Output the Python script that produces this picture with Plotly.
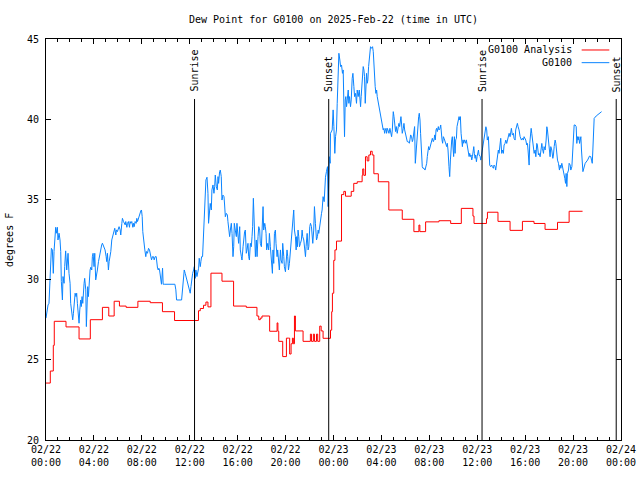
import plotly.graph_objects as go
import pandas as pd

BASE = pd.Timestamp("2025-02-22 00:00")

# G0100 Analysis (hourly step series): (hours since 02/22 00:00, degrees F)
analysis_hours = [0.0, 0.36, 0.61, 0.69, 1.67, 2.76, 3.70, 4.71, 5.24, 5.69, 6.13, 6.69, 7.67, 8.70, 9.72, 10.73,
                  12.73, 12.88, 13.15, 13.35, 13.52, 13.77, 14.69, 15.66, 16.72, 17.61, 17.76, 17.89, 18.03, 18.67,
                  19.29, 19.36, 19.43, 19.76, 20.07, 20.23, 20.34, 20.46, 20.57, 20.65, 20.74, 20.82, 21.46, 22.07,
                  22.16, 22.32, 22.41, 22.58, 22.68, 22.85, 22.97, 23.13, 23.75, 23.85, 23.91, 24.02, 24.12, 24.25,
                  24.67, 24.86, 25.0, 25.48, 25.69, 25.98, 26.39, 26.44, 26.53, 26.67, 26.81, 26.95, 27.09, 27.23,
                  27.37, 27.74, 28.62, 29.74, 30.71, 31.13, 31.21, 31.69, 32.8, 33.78, 34.67, 35.64, 35.73, 36.77,
                  36.85, 37.73, 38.74, 39.77, 40.74, 41.66, 42.7, 43.67, 44.79]
analysis_vals = [23.55, 24.3, 25.9, 27.4, 27.05, 26.3, 27.5, 28.27, 27.73, 28.65, 28.35, 28.27, 28.65, 28.56, 28.0, 27.45,
                 28.06, 28.2, 28.4, 28.6, 28.3, 30.4, 29.9, 28.35, 28.27, 27.73, 27.5, 27.6, 27.73, 26.78,
                 27.3, 26.78, 26.15, 25.2, 26.35, 26.35, 25.36, 26.0, 26.35, 26.0, 27.73, 26.8, 26.15, 26.6,
                 26.15, 26.6, 26.15, 26.6, 26.15, 27.1, 26.8, 26.34, 26.85, 28.0, 29.15, 31.2, 31.85, 32.4,
                 35.3, 35.5, 35.2, 35.5, 36.0, 36.1, 36.5, 36.9, 36.5, 37.66, 37.4, 37.77, 38.0, 37.77,
                 36.6, 36.1, 34.34, 33.76, 32.99, 33.4, 32.99, 33.6, 33.67, 33.5, 34.44, 33.96, 33.5, 33.8,
                 34.2, 33.63, 33.07, 33.63, 33.5, 33.13, 33.57, 34.26, 34.26]

# G0100 observations: (hours since 02/22 00:00, degrees F)
g0100_obs = [
    (0.0, 27.6), (0.06, 27.9), (0.17, 28.42), (0.25, 28.52), (0.39, 31.43), (0.45, 31.95), (0.53, 31.85), (0.61, 30.39),
    (0.67, 31.75), (0.81, 33.26), (0.86, 32.89), (0.95, 33.26), (1.0, 32.47), (1.09, 32.89), (1.17, 32.47), (1.23, 31.75),
    (1.28, 29.88), (1.37, 28.73), (1.42, 30.19), (1.51, 29.77), (1.56, 30.81), (1.64, 31.79), (1.73, 30.6), (1.78, 31.23),
    (1.84, 31.64), (1.92, 30.39), (2.01, 29.77), (2.06, 28.52), (2.15, 27.69), (2.23, 27.49), (2.29, 27.9), (2.34, 28.52),
    (2.43, 29.15), (2.51, 28.94), (2.56, 29.15), (2.62, 28.52), (2.7, 27.69), (2.76, 27.28), (2.82, 28.11), (2.9, 28.73),
    (2.95, 28.32), (3.01, 28.94), (3.07, 28.52), (3.12, 29.36), (3.18, 29.77), (3.23, 30.08), (3.32, 29.36), (3.37, 27.07),
    (3.43, 28.32), (3.48, 29.56), (3.54, 28.94), (3.6, 29.77), (3.68, 30.6), (3.74, 30.77), (3.82, 30.6), (3.87, 31.43),
    (3.93, 31.64), (4.01, 30.81), (4.07, 31.64), (4.15, 29.98), (4.21, 30.39), (4.29, 30.6), (4.38, 31.12), (4.43, 31.33),
    (4.52, 31.64), (4.57, 31.95), (4.65, 32.16), (4.71, 32.27), (4.79, 32.06), (4.85, 31.95), (4.93, 31.85), (5.02, 31.43),
    (5.07, 31.12), (5.13, 31.64), (5.21, 30.6), (5.27, 31.12), (5.35, 31.43), (5.41, 31.75), (5.49, 32.47), (5.55, 32.68),
    (5.6, 32.89), (5.69, 32.99), (5.74, 33.2), (5.83, 32.78), (5.88, 33.1), (5.96, 32.99), (6.02, 33.2), (6.1, 33.3),
    (6.19, 33.1), (6.24, 32.78), (6.33, 33.51), (6.38, 33.82), (6.47, 33.62), (6.52, 33.51), (6.61, 33.41), (6.66, 33.62),
    (6.75, 33.26), (6.8, 33.51), (6.88, 33.62), (6.97, 33.26), (7.02, 33.62), (7.08, 33.51), (7.16, 33.62), (7.25, 33.26),
    (7.3, 33.51), (7.36, 33.3), (7.44, 33.62), (7.53, 33.51), (7.58, 33.82), (7.64, 33.62), (7.72, 33.82), (7.78, 34.03),
    (7.83, 34.14), (7.92, 34.3), (7.97, 34.34), (8.03, 33.93), (8.08, 32.99), (8.14, 32.37), (8.19, 31.95), (8.25, 31.85),
    (8.33, 31.43), (8.39, 31.75), (8.47, 31.64), (8.56, 31.95), (8.64, 31.85), (8.7, 31.64), (8.75, 31.43), (8.81, 31.23),
    (8.89, 31.43), (8.97, 31.43), (9.03, 31.23), (9.11, 31.43), (9.2, 31.43), (9.25, 31.02), (9.31, 30.71), (9.37, 30.6),
    (9.42, 30.71), (9.48, 30.6), (9.53, 30.29), (9.59, 30.19), (9.64, 29.71), (9.73, 30.71), (9.78, 29.71), (9.87, 29.71),
    (10.76, 29.71), (10.84, 29.36), (10.9, 28.73), (11.32, 28.73), (11.4, 29.36), (11.48, 30.19), (11.54, 30.6), (11.62, 30.39),
    (11.68, 30.19), (11.76, 29.98), (11.82, 29.77), (11.9, 29.56), (11.96, 29.46), (12.04, 29.15), (12.1, 29.56), (12.15, 29.98),
    (12.24, 30.39), (12.32, 30.6), (12.38, 30.81), (12.46, 30.08), (12.51, 30.6), (12.6, 30.19), (12.65, 30.39), (12.74, 30.71),
    (12.79, 31.33), (12.88, 30.81), (12.93, 31.12), (12.99, 31.43), (13.07, 31.43), (13.16, 33.1),
    (13.24, 34.55), (13.35, 36.21), (13.44, 36.38), (13.52, 35.38), (13.57, 33.51), (13.63, 34.34), (13.71, 34.75), (13.8, 34.34),
    (13.85, 35.59), (13.94, 35.9), (14.02, 35.38), (14.08, 35.79), (14.13, 36.52), (14.22, 35.79), (14.3, 35.59), (14.36, 36.42),
    (14.41, 36.0), (14.49, 36.73), (14.55, 36.83), (14.63, 36.42), (14.69, 34.96), (14.77, 35.27), (14.86, 35.17), (14.91, 34.65),
    (14.97, 33.92), (15.05, 34.13), (15.14, 34.03), (15.19, 33.61), (15.25, 33.3), (15.33, 32.68), (15.39, 33.09), (15.47, 33.51),
    (15.53, 32.88), (15.61, 31.43), (15.67, 32.05), (15.72, 33.51), (15.8, 33.09), (15.89, 32.68), (15.94, 33.51), (16.03, 32.88),
    (16.08, 32.26), (16.17, 33.3), (16.22, 31.85), (16.31, 31.43), (16.36, 31.22), (16.45, 32.05), (16.53, 32.88), (16.58, 32.99),
    (16.64, 33.09), (16.72, 31.64), (16.78, 31.85), (16.86, 32.26), (16.92, 31.43), (16.98, 31.22), (17.06, 32.26), (17.14, 32.05),
    (17.2, 32.68), (17.25, 33.3), (17.31, 35.07), (17.37, 33.3), (17.42, 31.85), (17.48, 31.43), (17.56, 32.47), (17.62, 31.43),
    (17.7, 32.68), (17.76, 33.3), (17.84, 33.09), (17.89, 32.26), (17.98, 32.05), (18.03, 32.68), (18.12, 34.55), (18.17, 33.09),
    (18.26, 33.51), (18.31, 33.3), (18.37, 32.88), (18.42, 31.85), (18.51, 32.26), (18.59, 31.85), (18.65, 32.88), (18.73, 32.05),
    (18.79, 31.43), (18.84, 30.81), (18.9, 30.39), (18.95, 31.85), (19.01, 31.01), (19.07, 32.88), (19.15, 33.09), (19.2, 32.26),
    (19.29, 31.43), (19.34, 31.85), (19.43, 31.01), (19.48, 30.6), (19.57, 31.85), (19.62, 31.22), (19.71, 31.01), (19.76, 32.26),
    (19.85, 31.43), (19.9, 30.81), (19.99, 30.49), (20.04, 31.01), (20.12, 31.85), (20.18, 31.43), (20.24, 30.6), (20.32, 31.01),
    (20.4, 31.85), (20.49, 32.88), (20.54, 33.3), (20.6, 33.72), (20.68, 34.34), (20.74, 33.09), (20.82, 32.68), (20.88, 31.85),
    (20.93, 32.68), (20.99, 32.05), (21.04, 33.09), (21.1, 32.68), (21.16, 32.05), (21.24, 32.26), (21.32, 32.47), (21.38, 33.09),
    (21.43, 32.68), (21.52, 32.47), (21.6, 31.85), (21.66, 31.43), (21.71, 32.05), (21.8, 32.88), (21.88, 31.85), (21.94, 32.05),
    (22.02, 33.3), (22.08, 33.51), (22.16, 33.3), (22.21, 32.88), (22.27, 32.26), (22.35, 33.09), (22.41, 34.55), (22.49, 33.51),
    (22.58, 32.47), (22.66, 32.68), (22.72, 33.09), (22.77, 32.88), (22.86, 33.51), (22.94, 33.92), (23.0, 34.13), (23.05, 34.34),
    (23.13, 35.17), (23.22, 34.86), (23.27, 36.0), (23.33, 36.38), (23.41, 36.73), (23.5, 37.04), (23.55, 34.55), (23.66, 37.66),
    (23.72, 37.25), (23.75, 39.12), (23.89, 39.33), (23.97, 40.58), (24.03, 39.54), (24.11, 37.87), (24.17, 38.91), (24.25, 39.33),
    (24.31, 40.99), (24.36, 42.86), (24.45, 44.11), (24.53, 43.69), (24.59, 43.28), (24.67, 43.38), (24.75, 42.86), (24.81, 43.07),
    (24.86, 40.78), (24.92, 38.91), (24.98, 41.2), (25.03, 41.41), (25.09, 40.78), (25.14, 41.2), (25.23, 41.82), (25.28, 40.99),
    (25.34, 41.41), (25.42, 40.78), (25.48, 41.2), (25.56, 42.55), (25.62, 42.86), (25.7, 42.03), (25.76, 41.41), (25.84, 41.61),
    (25.92, 40.99), (25.98, 41.82), (26.06, 41.41), (26.15, 41.82), (26.2, 40.99), (26.26, 40.78), (26.31, 41.41), (26.37, 42.24),
    (26.43, 42.86), (26.48, 43.28), (26.54, 43.07), (26.59, 42.65), (26.65, 40.99), (26.7, 42.03), (26.76, 42.86), (26.82, 42.24),
    (26.87, 42.45), (26.93, 43.28), (26.98, 43.69), (27.04, 44.11), (27.09, 44.52), (27.18, 44.42), (27.26, 44.52), (27.32, 44.21),
    (27.37, 43.28), (27.43, 42.45), (27.48, 42.03), (27.54, 41.61), (27.6, 41.82), (27.65, 41.41), (27.74, 40.99), (27.82, 40.78),
    (27.87, 40.47), (27.93, 40.16), (27.99, 39.95), (28.07, 39.74), (28.15, 39.33), (28.21, 39.43), (28.27, 39.12), (28.32, 39.33),
    (28.38, 39.43), (28.43, 39.12), (28.49, 39.43), (28.54, 39.33), (28.63, 39.12), (28.71, 39.43), (28.77, 39.23), (28.85, 38.91),
    (28.91, 39.33), (28.96, 39.95), (28.99, 40.47), (29.05, 40.16), (29.1, 39.74), (29.18, 39.23), (29.24, 39.54), (29.32, 39.12),
    (29.41, 39.54), (29.46, 39.74), (29.52, 39.54), (29.57, 39.95), (29.63, 40.16), (29.69, 39.64), (29.74, 39.12), (29.83, 39.43),
    (29.88, 39.74), (29.94, 39.33), (30.02, 39.12), (30.1, 38.91), (30.16, 38.6), (30.24, 38.6), (30.33, 38.5), (30.38, 38.71),
    (30.44, 39.02), (30.52, 38.91), (30.58, 38.6), (30.63, 38.71), (30.72, 39.12), (30.77, 39.54), (30.83, 37.25), (30.9, 38.08),
    (30.94, 38.71), (30.99, 39.33), (31.05, 39.74), (31.11, 40.16), (31.16, 40.37), (31.22, 39.95), (31.27, 39.12), (31.33, 37.87),
    (31.41, 37.04), (31.47, 36.94), (31.55, 36.94), (31.64, 36.83), (31.69, 36.94), (31.78, 37.25), (31.83, 37.67), (31.89, 38.08),
    (31.94, 38.29), (32.0, 38.08), (32.06, 38.29), (32.11, 38.5), (32.2, 38.71), (32.25, 38.81), (32.33, 38.6), (32.39, 38.71),
    (32.45, 39.02), (32.5, 38.71), (32.56, 39.33), (32.61, 39.43), (32.67, 39.23), (32.75, 39.54), (32.81, 39.33), (32.89, 39.43),
    (32.95, 39.64), (33.0, 39.02), (33.06, 38.71), (33.11, 38.5), (33.17, 38.91), (33.23, 38.81), (33.28, 38.71), (33.37, 38.5),
    (33.45, 38.29), (33.5, 38.5), (33.56, 38.08), (33.64, 37.04), (33.7, 36.42), (33.76, 37.46), (33.81, 38.29), (33.87, 38.71),
    (33.92, 38.91), (33.98, 38.08), (34.03, 37.67), (34.09, 38.91), (34.15, 37.87), (34.2, 38.71), (34.26, 38.81), (34.31, 39.54),
    (34.37, 39.85), (34.42, 40.06), (34.48, 40.16), (34.54, 39.95), (34.59, 40.16), (34.65, 39.12), (34.7, 38.71), (34.76, 38.29),
    (34.81, 38.71), (34.87, 38.5), (34.93, 38.71), (34.98, 38.6), (35.04, 38.5), (35.09, 38.71), (35.15, 38.39), (35.2, 38.29),
    (35.26, 37.87), (35.32, 37.67), (35.37, 37.87), (35.43, 37.67), (35.48, 37.77), (35.54, 37.46), (35.6, 37.67), (35.65, 37.98),
    (35.71, 38.29), (35.76, 37.87), (35.82, 37.56), (35.87, 37.77), (35.93, 37.35), (35.99, 37.67), (36.04, 37.87), (36.1, 38.08),
    (36.15, 37.77), (36.24, 37.67), (36.29, 37.45), (36.37, 37.87), (36.45, 38.29), (36.51, 38.49), (36.57, 38.91), (36.65, 39.12),
    (36.72, 39.53), (36.79, 39.33), (36.84, 38.7), (36.93, 38.91), (36.98, 38.08), (37.04, 37.14), (37.12, 37.04), (37.21, 37.14),
    (37.26, 37.04), (37.35, 36.94), (37.4, 37.14), (37.49, 37.04), (37.54, 36.83), (37.62, 37.25), (37.68, 37.77), (37.76, 38.08),
    (37.82, 37.87), (37.9, 38.29), (37.96, 38.81), (38.04, 37.87), (38.1, 38.08), (38.18, 37.87), (38.24, 38.39), (38.32, 38.49),
    (38.38, 38.7), (38.46, 38.49), (38.52, 38.7), (38.6, 38.91), (38.66, 39.12), (38.74, 38.91), (38.79, 39.33), (38.85, 39.43),
    (38.93, 39.01), (39.02, 39.12), (39.07, 38.81), (39.16, 38.7), (39.21, 39.33), (39.3, 39.64), (39.35, 39.74), (39.41, 39.53),
    (39.49, 39.33), (39.58, 38.91), (39.63, 38.81), (39.69, 38.7), (39.77, 38.81), (39.85, 38.7), (39.91, 38.91), (39.99, 38.81),
    (40.05, 38.7), (40.13, 38.39), (40.19, 38.49), (40.24, 38.08), (40.33, 37.14), (40.38, 38.49), (40.44, 39.33), (40.5, 39.43),
    (40.55, 39.12), (40.61, 38.7), (40.69, 38.29), (40.75, 37.87), (40.83, 38.08), (40.89, 37.66), (40.97, 38.49), (41.02, 38.39),
    (41.11, 37.77), (41.16, 37.87), (41.25, 37.66), (41.3, 38.08), (41.39, 38.49), (41.44, 38.18), (41.53, 37.87), (41.58, 38.29),
    (41.67, 38.08), (41.75, 38.7), (41.81, 39.53), (41.86, 39.33), (41.94, 38.49), (42.0, 37.87), (42.08, 37.66), (42.14, 38.29),
    (42.22, 38.08), (42.31, 37.56), (42.36, 37.77), (42.42, 38.29), (42.5, 38.7), (42.56, 38.49), (42.64, 37.66), (42.7, 37.45),
    (42.78, 37.25), (42.86, 36.83), (42.92, 37.14), (42.98, 36.94), (43.06, 37.25), (43.12, 37.04), (43.2, 36.83), (43.25, 36.62),
    (43.31, 36.31), (43.37, 36.0), (43.42, 36.62), (43.48, 35.8), (43.53, 36.62), (43.62, 36.83), (43.67, 37.25), (43.76, 37.14),
    (43.81, 36.83), (43.9, 37.04), (43.95, 37.66), (44.03, 38.29), (44.09, 39.64), (44.17, 39.64), (44.26, 39.53), (44.31, 38.49),
    (44.37, 38.91), (44.42, 38.7), (44.48, 38.91), (44.54, 38.49), (44.59, 38.7), (44.65, 38.91), (44.7, 38.08), (44.76, 37.25),
    (44.82, 36.73), (45.01, 37.25), (45.21, 37.45), (45.37, 37.7), (45.48, 37.66), (45.54, 37.45), (45.6, 37.25), (45.65, 38.08),
    (45.71, 38.91), (45.76, 40.05), (45.93, 40.2), (46.15, 40.36), (46.38, 40.47),
]

sun_events = ["Sunrise", "Sunset", "Sunrise", "Sunset"]
sun_hours = [12.4, 23.6, 36.4, 47.6]

tick_hours = list(range(0, 49, 4))

FONT = "DejaVu Sans Mono"


def to_time(hours):
    return [BASE + pd.Timedelta(hours=h) for h in hours]


obs_hours = [p[0] for p in g0100_obs]
obs_vals = [p[1] for p in g0100_obs]

fig = go.Figure()
fig.add_trace(go.Scatter(x=to_time(analysis_hours), y=analysis_vals, mode="lines", name="G0100 Analysis",
                         line=dict(color="#ff0000", width=1, shape="hv"), showlegend=False))
fig.add_trace(go.Scatter(x=to_time(obs_hours), y=obs_vals, mode="lines", name="G0100",
                         line=dict(color="#0a84ff", width=1), showlegend=False))

shapes = []
annotations = []
for name, h in zip(sun_events, sun_hours):
    t = BASE + pd.Timedelta(hours=h)
    shapes.append(dict(type="line", xref="x", yref="y", x0=t, x1=t, y0=20, y1=41.26,
                       line=dict(color="black", width=1)))
    annotations.append(dict(x=t, y=43.0 if name == "Sunrise" else 42.8, xref="x", yref="y", text=name,
                            textangle=-90, showarrow=False, xanchor="center", yanchor="middle",
                            font=dict(family=FONT, size=10, color="black")))

# legend (text right-aligned, sample line to the right, as in the reference)
legend_items = [("G0100 Analysis", "#ff0000", 0.9726), ("G0100", "#0a84ff", 0.941)]
for label, color, yp in legend_items:
    annotations.append(dict(x=0.9183, y=yp, xref="paper", yref="paper", text=label, showarrow=False,
                            xanchor="right", yanchor="middle", font=dict(family=FONT, size=10, color="black")))
    shapes.append(dict(type="line", xref="paper", yref="paper", x0=0.9316, x1=0.9797, y0=yp, y1=yp,
                       line=dict(color=color, width=1)))

annotations.append(dict(x=-0.0626, y=0.4988, xref="paper", yref="paper", text="degrees F", textangle=-90,
                        showarrow=False, xanchor="center", yanchor="middle",
                        font=dict(family=FONT, size=10, color="black")))

fig.update_layout(
    width=640, height=480,
    margin=dict(l=46, r=19, t=39, b=40, autoexpand=False),
    paper_bgcolor="white", plot_bgcolor="white",
    font=dict(family=FONT, size=10, color="black"),
    title=dict(text="Dew Point for G0100 on 2025-Feb-22 (time in UTC)", x=0.5, xref="paper", xanchor="center",
               y=1 - 19 / 480, yref="container", yanchor="middle", font=dict(family=FONT, size=10, color="black")),
    shapes=shapes,
    annotations=annotations,
    showlegend=False,
)

fig.update_xaxes(
    type="date",
    range=[BASE, BASE + pd.Timedelta(hours=48)],
    tickvals=to_time(tick_hours),
    tickformat="%m/%d<br>%H:%M",
    ticks="inside", ticklen=5, tickcolor="black", tickwidth=1,
    showline=True, linecolor="black", linewidth=1, mirror="ticks",
    showgrid=False, zeroline=False, automargin=False,
    minor=dict(dtick=3600000, ticks="inside", ticklen=3, tickcolor="black", tickwidth=1, showgrid=False),
    tickfont=dict(family=FONT, size=10, color="black"),
)
fig.update_yaxes(
    range=[20, 45],
    tickvals=[20, 25, 30, 35, 40, 45],
    ticks="inside", ticklen=5, tickcolor="black", tickwidth=1,
    showline=True, linecolor="black", linewidth=1, mirror="ticks",
    showgrid=False, zeroline=False, automargin=False,
    ticklabelstandoff=4,
    tickfont=dict(family=FONT, size=10, color="black"),
)

fig.write_html("out.html")
